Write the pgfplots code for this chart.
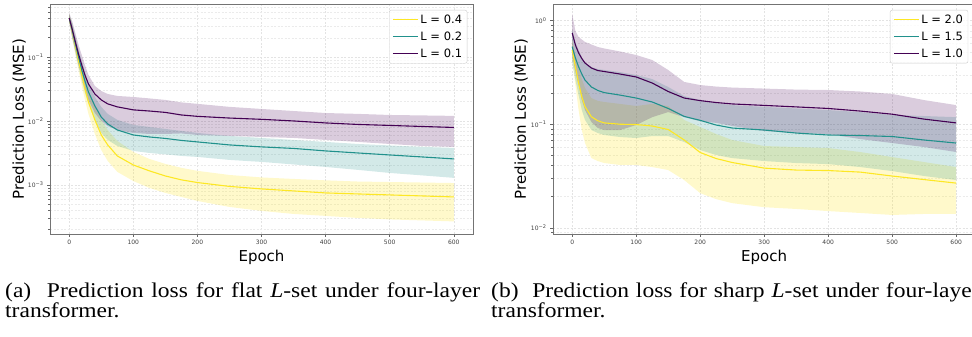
\documentclass[border=0pt]{standalone}
\usepackage{fontspec}
\setmainfont{DejaVu Sans}
\newfontfamily\capfont{Liberation Serif}
\usepackage{pgfplots}
\usepackage{pgfplotstable}
\pgfplotsset{compat=1.18}
\usepgfplotslibrary{fillbetween}
\definecolor{vy}{HTML}{FDE725}
\definecolor{vt}{HTML}{21918C}
\definecolor{vp}{HTML}{440154}

% panel (a): epoch, mean, upper, lower
\pgfplotstableread{
e m u l
0 0.407 0.487 0.352
5 0.264 0.352 0.198
10 0.166 0.229 0.120
15 0.107 0.149 0.0723
20 0.0723 0.104 0.0470
25 0.0505 0.0723 0.0305
30 0.0379 0.0524 0.0213
40 0.0264 0.0352 0.0133
50 0.0213 0.0294 0.0100
60 0.0185 0.0264 0.00835
75 0.0166 0.0246 0.00723
100 0.0149 0.0237 0.00649
125 0.0143 0.0225 0.00626
150 0.0136 0.0213 0.00626
175 0.0124 0.0195 0.00638
200 0.0118 0.0185 0.00604
250 0.0111 0.0166 0.00583
300 0.0106 0.0154 0.00562
350 0.0100 0.0143 0.00542
400 0.00931 0.0133 0.00505
450 0.00882 0.0129 0.00470
500 0.00851 0.0124 0.00437
550 0.00820 0.0122 0.00407
600 0.00791 0.0120 0.00393
}\aP
\pgfplotstableread{
e m u l
0 0.407 0.470 0.352
5 0.255 0.328 0.191
10 0.154 0.205 0.111
15 0.0965 0.129 0.0673
20 0.0604 0.0835 0.0407
25 0.0407 0.0562 0.0264
30 0.0284 0.0393 0.0185
40 0.0172 0.0237 0.0104
50 0.0115 0.0166 0.00649
60 0.00898 0.0129 0.00505
75 0.00723 0.0104 0.00407
100 0.00604 0.00866 0.00340
125 0.00562 0.00806 0.00316
150 0.00533 0.00750 0.00300
175 0.00496 0.00698 0.00284
200 0.00470 0.00649 0.00274
250 0.00422 0.00583 0.00246
300 0.00393 0.00542 0.00229
350 0.00372 0.00505 0.00209
400 0.00340 0.00470 0.00191
450 0.00316 0.00437 0.00172
500 0.00294 0.00414 0.00154
550 0.00274 0.00393 0.00141
600 0.00255 0.00379 0.00129
}\aT
\pgfplotstableread{
e m u l
0 0.407 0.470 0.352
5 0.246 0.305 0.185
10 0.143 0.185 0.104
15 0.0835 0.111 0.0583
20 0.0505 0.0698 0.0340
25 0.0305 0.0453 0.0205
30 0.0198 0.0305 0.0129
40 0.0104 0.0166 0.00626
50 0.00604 0.0104 0.00352
60 0.00422 0.00723 0.00237
75 0.00284 0.00487 0.00160
100 0.00205 0.00328 0.00115
125 0.00166 0.00255 0.000898
150 0.00138 0.00213 0.000750
175 0.00120 0.00185 0.000649
200 0.00109 0.00166 0.000562
250 0.000948 0.00143 0.000453
300 0.000866 0.00131 0.000393
350 0.000806 0.00124 0.000352
400 0.000750 0.00118 0.000328
450 0.000723 0.00113 0.000305
500 0.000698 0.00111 0.000289
550 0.000673 0.00109 0.000279
600 0.000649 0.00107 0.000269
}\aY

% panel (b)
\pgfplotstableread{
e m u l
0 0.761 1.161 0.466
5 0.582 0.795 0.319
10 0.488 0.696 0.239
15 0.431 0.658 0.171
20 0.390 0.623 0.137
30 0.349 0.589 0.105
40 0.330 0.557 0.0919
50 0.323 0.539 0.0879
75 0.305 0.504 0.0879
100 0.286 0.466 0.0982
125 0.250 0.417 0.117
150 0.207 0.334 0.131
175 0.179 0.256 0.117
200 0.169 0.239 0.107
225 0.162 0.231 0.103
250 0.157 0.226 0.0961
300 0.152 0.221 0.0860
350 0.147 0.216 0.0822
400 0.142 0.214 0.0804
450 0.134 0.207 0.0719
500 0.125 0.196 0.0658
550 0.112 0.171 0.0602
600 0.103 0.153 0.0539
}\bP
\pgfplotstableread{
e m u l
0 0.561 0.813 0.399
5 0.436 0.623 0.267
10 0.359 0.521 0.191
15 0.305 0.446 0.137
20 0.267 0.390 0.110
30 0.229 0.357 0.0879
40 0.212 0.341 0.0822
50 0.202 0.334 0.0787
75 0.191 0.319 0.0752
100 0.179 0.299 0.0736
125 0.164 0.273 0.0769
150 0.142 0.229 0.0769
175 0.119 0.187 0.0673
200 0.109 0.171 0.0563
225 0.0982 0.160 0.0504
250 0.0919 0.153 0.0471
300 0.0879 0.147 0.0441
350 0.0822 0.142 0.0422
400 0.0787 0.137 0.0412
450 0.0778 0.131 0.0386
500 0.0761 0.123 0.0353
550 0.0704 0.120 0.0316
600 0.0658 0.117 0.0289
}\bT
\pgfplotstableread{
e m u l
0 0.521 0.651 0.417
5 0.359 0.466 0.239
10 0.250 0.349 0.137
15 0.184 0.273 0.0879
20 0.148 0.224 0.0658
30 0.118 0.179 0.0471
40 0.108 0.168 0.0441
50 0.103 0.164 0.0422
75 0.100 0.157 0.0404
100 0.0993 0.150 0.0404
125 0.0961 0.157 0.0386
150 0.0889 0.150 0.0361
175 0.0704 0.110 0.0289
200 0.0533 0.0939 0.0216
225 0.0466 0.0804 0.0189
250 0.0427 0.0704 0.0173
300 0.0377 0.0616 0.0158
350 0.0361 0.0602 0.0152
400 0.0357 0.0589 0.0145
450 0.0345 0.0539 0.0139
500 0.0316 0.0482 0.0133
550 0.0292 0.0431 0.0136
600 0.0270 0.0386 0.0136
}\bY

\pgfplotsset{
  every axis/.append style={
    scale only axis, xmin=-30, xmax=630,
    xtick={0,100,200,300,400,500,600},
    grid=both,
    major grid style={dash pattern=on 2pt off 1.5pt, black!11, line width=0.5pt},
    minor grid style={dash pattern=on 2pt off 1.5pt, black!8, line width=0.4pt},
    axis line style={black!55, line width=0.8pt},
    tick align=outside, xtick pos=bottom, ytick pos=left,
    major tick length=3pt, minor tick length=1.8pt,
    tick style={black!60, line width=0.5pt},
    ticklabel style={font=\fontsize{6}{7}\selectfont, text=black!75},
    /pgf/number format/assume math mode=true,
    label style={font=\fontsize{15}{17}\selectfont},
    xlabel style={at={(axis description cs:0.5,-0.1217)}, anchor=base},
    legend cell align=left,
    legend style={anchor=north east, draw=black!20, rounded corners=2pt,
      fill=white, fill opacity=0.8, text opacity=1,
      font=\fontsize{11.5}{13}\selectfont, inner xsep=3pt, inner ysep=2.5pt,
      row sep=3pt},
  },
}

\begin{document}
\begin{tikzpicture}[x=1pt,y=1pt]

% ---------- panel (a) ----------
\begin{axis}[at={(50pt,103pt)}, anchor=south west, width=423pt, height=230pt,
  ymode=log, ymin=1.71e-4, ymax=0.673,
  ytick={1e-3,1e-2,1e-1},
  yticklabels={10\textsuperscript{−3},10\textsuperscript{−2},10\textsuperscript{−1}},
  minor ytick={2e-4,3e-4,4e-4,5e-4,6e-4,7e-4,8e-4,9e-4,2e-3,3e-3,4e-3,5e-3,6e-3,7e-3,8e-3,9e-3,2e-2,3e-2,4e-2,5e-2,6e-2,7e-2,8e-2,9e-2,0.2,0.3,0.4,0.5,0.6},
  xlabel={Epoch}, ylabel={Prediction Loss (MSE)},
  ylabel style={at={(axis description cs:-0.0615,0.5)}, anchor=base},
  legend style={at={(0.9865,0.974)}},
]
\addplot[draw=none, forget plot, name path=ayu] table[x=e,y=u]{\aY};
\addplot[draw=none, forget plot, name path=ayl] table[x=e,y=l]{\aY};
\addplot[fill=vy, fill opacity=0.24, draw=none, forget plot] fill between[of=ayu and ayl];
\addplot[draw=none, forget plot, name path=atu] table[x=e,y=u]{\aT};
\addplot[draw=none, forget plot, name path=atl] table[x=e,y=l]{\aT};
\addplot[fill=vt, fill opacity=0.2, draw=none, forget plot] fill between[of=atu and atl];
\addplot[draw=none, forget plot, name path=apu] table[x=e,y=u]{\aP};
\addplot[draw=none, forget plot, name path=apl] table[x=e,y=l]{\aP};
\addplot[fill=vp, fill opacity=0.2, draw=none, forget plot] fill between[of=apu and apl];
\addplot[line width=1.1pt, vy, legend image code/.code={\draw[vy, line width=1.2pt] (0pt,0pt) -- (25pt,0pt);}] table[x=e,y=m]{\aY};
\addlegendentry{L = 0.4}
\addplot[line width=1.1pt, vt, legend image code/.code={\draw[vt, line width=1.2pt] (0pt,0pt) -- (25pt,0pt);}] table[x=e,y=m]{\aT};
\addlegendentry{L = 0.2}
\addplot[line width=1.1pt, vp, legend image code/.code={\draw[vp, line width=1.2pt] (0pt,0pt) -- (25pt,0pt);}] table[x=e,y=m]{\aP};
\addlegendentry{L = 0.1}
\end{axis}

% ---------- panel (b) ----------
\begin{axis}[at={(553pt,103pt)}, anchor=south west, width=422.4pt, height=230pt,
  ymode=log, ymin=0.00871, ymax=1.449,
  ytick={1e-2,1e-1,1},
  yticklabels={10\textsuperscript{−2},10\textsuperscript{−1},10\textsuperscript{0}},
  minor ytick={9e-3,2e-2,3e-2,4e-2,5e-2,6e-2,7e-2,8e-2,9e-2,0.2,0.3,0.4,0.5,0.6,0.7,0.8,0.9},
  xlabel={Epoch}, ylabel={Prediction Loss (MSE)},
  ylabel style={at={(axis description cs:-0.064,0.5)}, anchor=base},
  legend style={at={(0.983,0.974)}},
]
\addplot[draw=none, forget plot, name path=byu] table[x=e,y=u]{\bY};
\addplot[draw=none, forget plot, name path=byl] table[x=e,y=l]{\bY};
\addplot[fill=vy, fill opacity=0.24, draw=none, forget plot] fill between[of=byu and byl];
\addplot[draw=none, forget plot, name path=btu] table[x=e,y=u]{\bT};
\addplot[draw=none, forget plot, name path=btl] table[x=e,y=l]{\bT};
\addplot[fill=vt, fill opacity=0.2, draw=none, forget plot] fill between[of=btu and btl];
\addplot[draw=none, forget plot, name path=bpu] table[x=e,y=u]{\bP};
\addplot[draw=none, forget plot, name path=bpl] table[x=e,y=l]{\bP};
\addplot[fill=vp, fill opacity=0.2, draw=none, forget plot] fill between[of=bpu and bpl];
\addplot[line width=1.1pt, vy, legend image code/.code={\draw[vy, line width=1.2pt] (0pt,0pt) -- (25pt,0pt);}] table[x=e,y=m]{\bY};
\addlegendentry{L = 2.0}
\addplot[line width=1.1pt, vt, legend image code/.code={\draw[vt, line width=1.2pt] (0pt,0pt) -- (25pt,0pt);}] table[x=e,y=m]{\bT};
\addlegendentry{L = 1.5}
\addplot[line width=1.1pt, vp, legend image code/.code={\draw[vp, line width=1.2pt] (0pt,0pt) -- (25pt,0pt);}] table[x=e,y=m]{\bP};
\addlegendentry{L = 1.0}
\end{axis}

% ---------- captions ----------
\node[anchor=base west, inner sep=0pt, font=\capfont\fontsize{21}{21}\selectfont] at (5,39) {\scalebox{1.12}[1]{\makebox[424pt][s]{(a)\ \ Prediction loss for flat {\itshape L}-set under four-layer}}};
\node[anchor=base west, inner sep=0pt, font=\capfont\fontsize{21}{21}\selectfont] at (5,19) {\scalebox{1.12}[1]{transformer.}};
\node[anchor=base west, inner sep=0pt, font=\capfont\fontsize{21}{21}\selectfont] at (491,39) {\scalebox{1.12}[1]{\makebox[436pt][s]{(b)\ \ Prediction loss for sharp {\itshape L}-set under four-layer}}};
\node[anchor=base west, inner sep=0pt, font=\capfont\fontsize{21}{21}\selectfont] at (491,19) {\scalebox{1.12}[1]{transformer.}};

\pgfresetboundingbox
\useasboundingbox (0,0) rectangle (972,337);
\end{tikzpicture}
\end{document}
